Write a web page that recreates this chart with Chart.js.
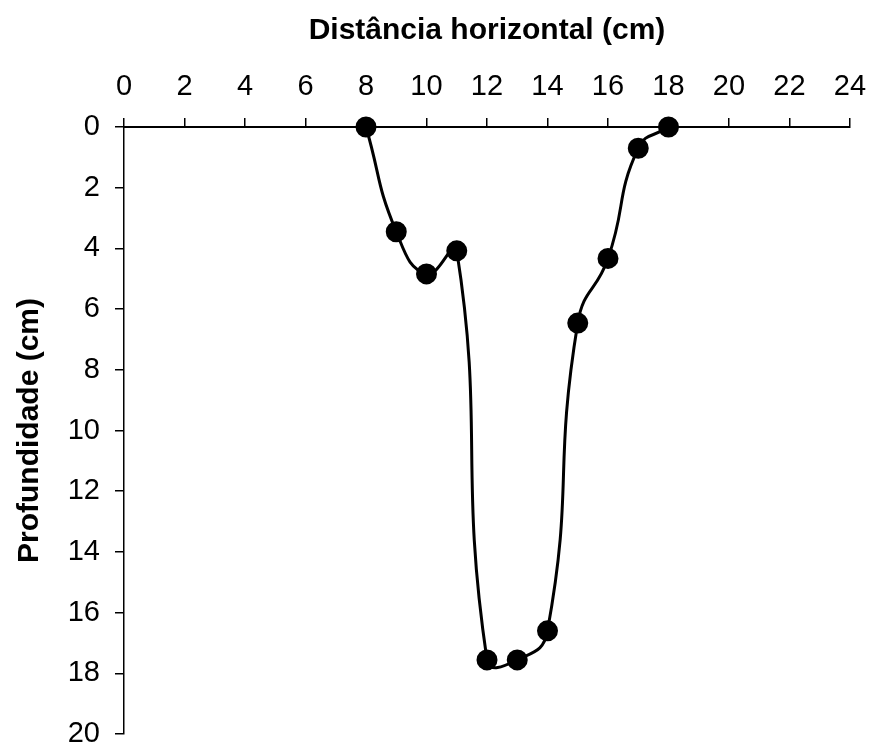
<!DOCTYPE html>
<html>
<head>
<meta charset="utf-8">
<script src="https://cdn.jsdelivr.net/npm/chart.js@4"></script>
<style>
  html, body { margin: 0; padding: 0; background: #fff; }
  #wrap { width: 869px; height: 742px; }
</style>
</head>
<body>
<div id="wrap"><canvas id="c" width="869" height="742"></canvas></div>
<script>
// distância horizontal (cm) e profundidade (cm)
const distancia = [8, 9, 10, 11, 12, 13, 14, 15, 16, 17, 18];
const profundidade = [0, 3.45, 4.84, 4.08, 17.56, 17.56, 16.6, 6.46, 4.33, 0.7, 0];
const xTitle = 'Distância horizontal (cm)';
const yTitle = 'Profundidade (cm)';

const FONT = '"Liberation Sans", Arial, sans-serif';

const ctx = document.getElementById('c').getContext('2d');
new Chart(ctx, {
  type: 'line',
  data: {
    datasets: [{
      data: distancia.map((x, i) => ({ x, y: profundidade[i] })),
      borderColor: '#000',
      backgroundColor: '#000',
      borderWidth: 3,
      pointRadius: 9,
      pointHoverRadius: 9,
      pointBackgroundColor: '#000',
      pointBorderColor: '#000',
      tension: 0.5,
      fill: false,
      clip: false
    }]
  },
  options: {
    responsive: false,
    animation: false,
    events: [],
    layout: { autoPadding: false, padding: { left: 0, top: 0, right: 19, bottom: 8 } },
    plugins: { legend: { display: false }, tooltip: { enabled: false } },
    scales: {
      x: {
        type: 'linear',
        position: 'top',
        min: 0, max: 24,
        afterFit: s => { s.height = 127; s.paddingLeft = 0; s.paddingRight = 0; },
        ticks: { stepSize: 2, color: '#000', padding: 14, maxRotation: 0,
                 font: { family: FONT, size: 29 } },
        grid: { drawOnChartArea: false, color: '#000', lineWidth: 1.5, tickLength: 9 },
        border: { color: '#000', width: 2 },
        title: { display: true, text: xTitle, color: '#000', padding: { top: 13, bottom: 0 },
                 font: { family: FONT, size: 30, weight: 'bold' } }
      },
      y: {
        type: 'linear',
        reverse: true,
        min: 0, max: 20,
        afterFit: s => { s.width = 124; s.paddingTop = 0; s.paddingBottom = 0; },
        ticks: { stepSize: 2, color: '#000', padding: 15,
                 font: { family: FONT, size: 29 } },
        grid: { drawOnChartArea: false, color: '#000', lineWidth: 1.5, tickLength: 9 },
        border: { color: '#000', width: 1.5 },
        title: { display: true, text: yTitle, color: '#000', padding: { top: 12, bottom: 0 },
                 font: { family: FONT, size: 30, weight: 'bold' } }
      }
    }
  }
});
</script>
</body>
</html>
